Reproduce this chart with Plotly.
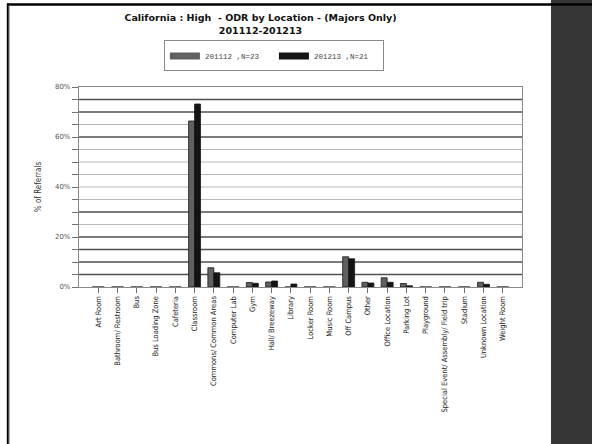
import plotly.graph_objects as go

# Referral locations and percentage of referrals for each school year
locations = [
    "Art Room", "Bathroom/ Restroom", "Bus", "Bus Loading Zone", "Cafeteria",
    "Classroom", "Commons/ Common Areas", "Computer Lab", "Gym",
    "Hall/ Breezeway", "Library", "Locker Room", "Music Room", "Off Campus",
    "Other", "Office Location", "Parking Lot", "Playground",
    "Special Event/ Assembly/ Field trip", "Stadium", "Unknown Location",
    "Weight Room",
]
pct_201112 = [0, 0, 0, 0, 0, 66.4, 7.7, 0, 1.8, 2.0, 0, 0, 0, 12.1,
              1.9, 3.7, 1.4, 0, 0, 0, 1.9, 0]
pct_201213 = [0, 0, 0, 0, 0, 73.2, 5.7, 0, 1.5, 2.4, 1.2, 0, 0, 11.3,
              1.6, 1.9, 0.5, 0, 0, 0, 1.1, 0]
series_names = ["201112 ,N=23", "201213 ,N=21"]
series_colors = ["#606060", "#141414"]
y_ticks = [0, 20, 40, 60, 80]
y_tick_text = ["0%", "20%", "40%", "60%", "80%"]
grid_dark = [5, 10, 15, 20, 30, 60, 70, 75]
grid_light = [25, 35, 40, 45, 50, 55, 65]

label_font = "Liberation Sans Narrow, DejaVu Sans Condensed, Arial Narrow, sans-serif"

fig = go.Figure()
for vals, name, color in zip([pct_201112, pct_201213], series_names, series_colors):
    fig.add_trace(go.Bar(
        x=locations, y=vals, name=name, showlegend=False,
        marker=dict(color=color, line=dict(color="#1a1a1a", width=0.8)),
    ))
    # wide flat legend key for each series
    fig.add_trace(go.Scatter(
        x=[None], y=[None], mode="lines", name=name,
        line=dict(color=color, width=7),
    ))

shapes = []
# horizontal grid lines every 5%
for v in grid_dark:
    shapes.append(dict(type="line", xref="paper", yref="y", x0=0, x1=1,
                       y0=v, y1=v, layer="below",
                       line=dict(color="#505050", width=1.3)))
for v in grid_light:
    shapes.append(dict(type="line", xref="paper", yref="y", x0=0, x1=1,
                       y0=v, y1=v, layer="below",
                       line=dict(color="#b8b8b8", width=1)))
# dark side panel
shapes.append(dict(type="rect", xref="paper", yref="paper",
                   x0=(551 - 79) / 443, x1=1.2, y0=-0.9, y1=1.5,
                   fillcolor="#363636", line=dict(width=0), layer="above"))
# page frame: top and left edges
shapes.append(dict(type="line", xref="paper", yref="paper",
                   x0=(7 - 79) / 443, x1=1.2,
                   y0=(287 - 4.5) / 200, y1=(287 - 4.5) / 200,
                   line=dict(color="#000000", width=2.5), layer="above"))
shapes.append(dict(type="line", xref="paper", yref="paper",
                   x0=(7.8 - 79) / 443, x1=(7.8 - 79) / 443,
                   y0=(287 - 3.5) / 200, y1=-0.9,
                   line=dict(color="#000000", width=2), layer="above"))
shapes.append(dict(type="line", xref="paper", yref="paper",
                   x0=(9.3 - 79) / 443, x1=(9.3 - 79) / 443,
                   y0=(287 - 5.5) / 200, y1=-0.9,
                   line=dict(color="#9a9a9a", width=1), layer="above"))

fig.update_layout(
    width=592, height=444,
    margin=dict(l=79, r=70, t=87, b=157),
    paper_bgcolor="white", plot_bgcolor="white",
    barmode="group", bargap=0.38, bargroupgap=0,
    title=dict(
        text="<b>California : High  - ODR by Location - (Majors Only)</b><br><b>201112-201213</b>",
        x=0.44, xanchor="center", y=0.952, yanchor="top",
        font=dict(family="DejaVu Sans, Verdana, sans-serif", size=9.5, color="#111111"),
    ),
    legend=dict(
        orientation="h", x=0.44, xanchor="center", y=0.874, yref="container",
        yanchor="middle",
        bordercolor="#8a8a8a", borderwidth=1, bgcolor="white",
        font=dict(family="Liberation Mono, DejaVu Sans Mono, monospace", size=7.5, color="#444444"),
        entrywidth=64, entrywidthmode="pixels", itemwidth=30, tracegroupgap=0,
    ),
    xaxis=dict(
        type="category", range=[-1, 22],
        showline=True, linecolor="#8a8a8a", linewidth=1.2, mirror=True,
        ticks="outside", ticklen=5, tickcolor="#707070", tickwidth=1,
        tickangle=-90, showgrid=False,
        tickfont=dict(family=label_font, size=7.5, color="#222222"),
    ),
    yaxis=dict(
        range=[0, 80], tickvals=y_ticks, ticktext=y_tick_text,
        showline=True, linecolor="#8a8a8a", linewidth=1.2, mirror=True,
        ticks="outside", ticklen=6, tickcolor="#707070",
        showgrid=False, zeroline=False,
        tickfont=dict(family="DejaVu Sans, sans-serif", size=7, color="#555555"),
        minor=dict(dtick=5, ticks="outside", ticklen=6, tickcolor="#707070",
                   showgrid=False),
        title=dict(text="% of Referrals", standoff=12,
                   font=dict(family=label_font, size=8, color="#333333")),
    ),
    shapes=shapes,
)

fig.write_html("out.html")
